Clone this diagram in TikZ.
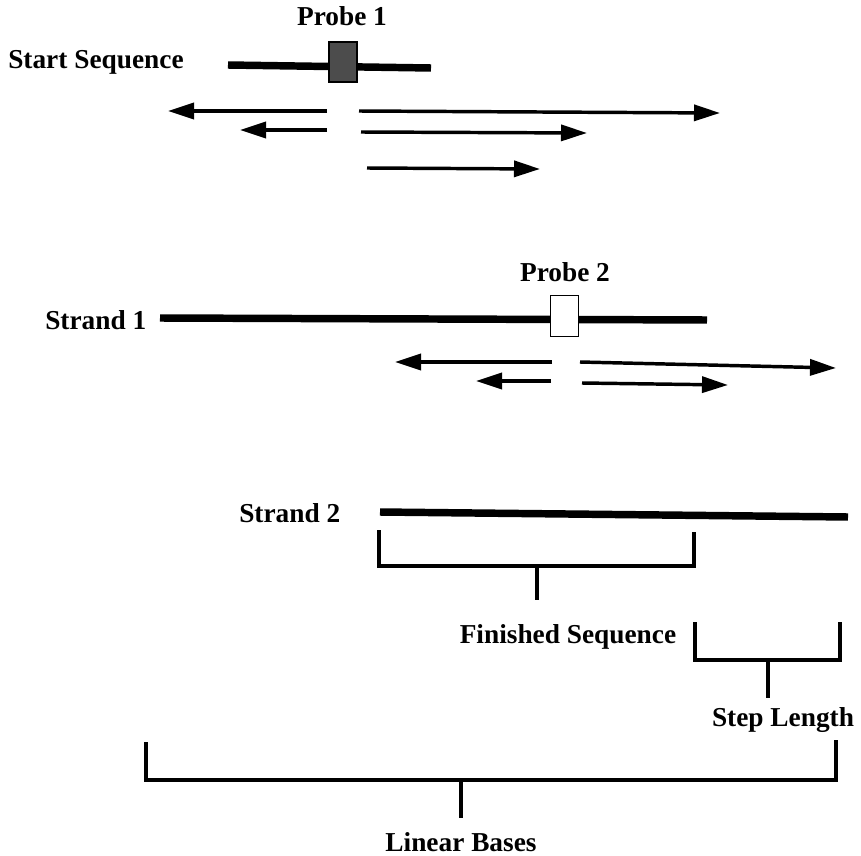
\documentclass[tikz,border=0pt]{standalone}
\usepackage{fontspec}
\setmainfont{Liberation Serif}
\usetikzlibrary{arrows.meta}
\begin{document}
\begin{tikzpicture}[x=0.75pt,y=-0.75pt,
  lbl/.style={font=\fontsize{20.5}{22}\selectfont\bfseries, inner sep=0pt},
  strandline/.style={line width=5.6pt},
  arr/.style={line width=2.6pt, -{Triangle[length=19.5pt,width=12pt]}},
  brk/.style={line width=2.3pt}]
\useasboundingbox (0,0) rectangle (861,856);

% --- Start sequence
\node[lbl, anchor=west] (startlbl) at (8,62) {Start Sequence};
\node[lbl] (p1lbl) at (342,16) {Probe 1};
\coordinate (s0a) at (228,65);
\coordinate (s0b) at (431,68);
\draw[strandline] (s0a) -- (s0b);
\node[draw=black, line width=0.8pt, fill=black!70, minimum width=21pt, minimum height=30pt, inner sep=0pt] (probe1) at (343,62) {};

\coordinate (a1s) at (327,111); \coordinate (a1e) at (168,111);
\coordinate (a2s) at (359,111); \coordinate (a2e) at (720,113);
\coordinate (a3s) at (327,130); \coordinate (a3e) at (240,130);
\coordinate (a4s) at (361,132); \coordinate (a4e) at (587,133);
\coordinate (a5s) at (367,168); \coordinate (a5e) at (540,169);
\draw[arr] (a1s) -- (a1e);
\draw[arr] (a2s) -- (a2e);
\draw[arr] (a3s) -- (a3e);
\draw[arr] (a4s) -- (a4e);
\draw[arr] (a5s) -- (a5e);

% --- Strand 1
\node[lbl, anchor=west] (s1lbl) at (45,320) {Strand 1};
\node[lbl] (p2lbl) at (565,272) {Probe 2};
\coordinate (s1a) at (160,318);
\coordinate (s1b) at (707,320);
\draw[strandline] (s1a) -- (s1b);
\node[draw=black, line width=0.8pt, fill=white, minimum width=21.5pt, minimum height=31pt, inner sep=0pt] (probe2) at (564.5,316) {};

\coordinate (b1s) at (552,362); \coordinate (b1e) at (395,362);
\coordinate (b2s) at (580,362); \coordinate (b2e) at (836,368);
\coordinate (b3s) at (551,381); \coordinate (b3e) at (476,381);
\coordinate (b4s) at (582,383); \coordinate (b4e) at (728,385);
\draw[arr] (b1s) -- (b1e);
\draw[arr] (b2s) -- (b2e);
\draw[arr] (b3s) -- (b3e);
\draw[arr] (b4s) -- (b4e);

% --- Strand 2
\node[lbl, anchor=west] (s2lbl) at (239,513) {Strand 2};
\coordinate (s2a) at (380,512);
\coordinate (s2b) at (848,517);
\draw[strandline] (s2a) -- (s2b);

% Finished sequence bracket
\coordinate (f1) at (379,530); \coordinate (f2) at (379,566);
\coordinate (f3) at (694,566); \coordinate (f4) at (694,532);
\coordinate (fm) at (537,566); \coordinate (ft) at (537,600);
\draw[brk] (f1) -- (f2) -- (f3) -- (f4);
\draw[brk] (fm) -- (ft);
\node[lbl] (finlbl) at (568,637) {Finished Sequence};

% Step length bracket
\coordinate (g1) at (695,622); \coordinate (g2) at (695,660);
\coordinate (g3) at (840,660); \coordinate (g4) at (840,622);
\coordinate (gm) at (768,660); \coordinate (gt) at (768,698);
\draw[brk] (g1) -- (g2) -- (g3) -- (g4);
\draw[brk] (gm) -- (gt);
\node[lbl] (steplbl) at (783,720) {Step Length};

% Linear bases bracket
\coordinate (h1) at (146,742); \coordinate (h2) at (146,780);
\coordinate (h3) at (836,780); \coordinate (h4) at (836,740);
\coordinate (hm) at (461,780); \coordinate (ht) at (461,818);
\draw[brk] (h1) -- (h2) -- (h3) -- (h4);
\draw[brk] (hm) -- (ht);
\node[lbl] (linlbl) at (461,842) {Linear Bases};
\end{tikzpicture}
\end{document}
